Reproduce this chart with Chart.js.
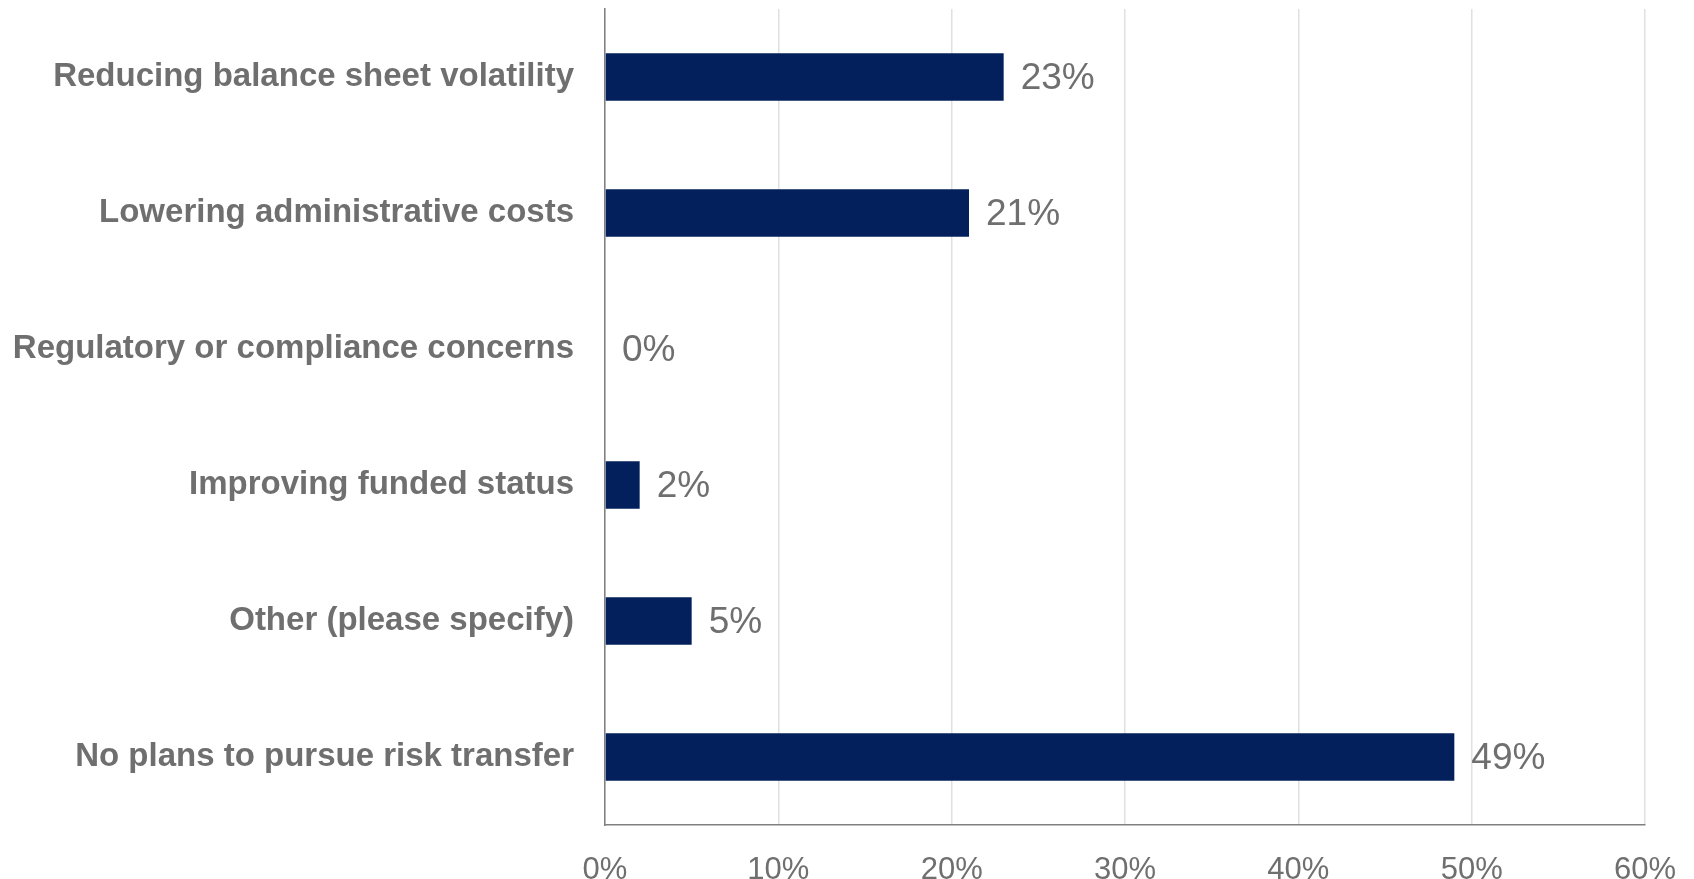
<!DOCTYPE html>
<html>
<head>
<meta charset="utf-8">
<script src="https://cdn.jsdelivr.net/npm/chart.js@4.4.1/dist/chart.umd.min.js"></script>
<style>
  html, body { margin: 0; padding: 0; background: #ffffff; }
  #wrap { width: 1694px; height: 879px; position: relative; }
</style>
</head>
<body>
<div id="wrap"><canvas id="chart"></canvas></div>
<script>
const categories = [
  'Reducing balance sheet volatility',
  'Lowering administrative costs',
  'Regulatory or compliance concerns',
  'Improving funded status',
  'Other (please specify)',
  'No plans to pursue risk transfer'
];
const shares = [23, 21, 0, 2, 5, 49];
const tickValues = [0, 10, 20, 30, 40, 50, 60];

const textGrey = '#6f6f6f';
const barNavy = '#03205d';

// Writes the percentage just past the end of each bar
const valueLabels = {
  id: 'valueLabels',
  afterDatasetsDraw(chart) {
    const ctx = chart.ctx;
    const meta = chart.getDatasetMeta(0);
    ctx.save();
    ctx.font = '37px "Liberation Sans", Arial, sans-serif';
    ctx.fillStyle = textGrey;
    ctx.textAlign = 'left';
    ctx.textBaseline = 'middle';
    meta.data.forEach((bar, i) => {
      ctx.fillText(shares[i] + '%', bar.x + 17, bar.y + 2);
    });
    ctx.restore();
  }
};

new Chart(document.getElementById('chart'), {
  type: 'bar',
  data: {
    labels: categories,
    datasets: [{
      data: shares,
      backgroundColor: barNavy,
      borderWidth: 0,
      categoryPercentage: 1,
      barPercentage: 0.35
    }]
  },
  options: {
    indexAxis: 'y',
    responsive: true,
    maintainAspectRatio: false,
    animation: false,
    layout: { padding: { top: 9, right: 49, bottom: 0, left: 0 } },
    plugins: { legend: { display: false }, tooltip: { enabled: false } },
    scales: {
      x: {
        min: 0,
        max: 60,
        afterBuildTicks(scale) {
          scale.ticks = tickValues.map(v => ({ value: v }));
        },
        afterFit(scale) {
          scale.height = 54;
          scale.paddingLeft = 0;
          scale.paddingRight = 0;
        },
        grid: { color: '#e0e0e0', lineWidth: 1.5, drawTicks: false },
        border: { color: '#808080', width: 1.5 },
        ticks: {
          padding: 27,
          color: textGrey,
          font: { family: '"Liberation Sans", Arial, sans-serif', size: 31 },
          callback: v => v + '%'
        }
      },
      y: {
        afterFit(scale) {
          scale.width = 605;
          scale.paddingTop = 0;
          scale.paddingBottom = 0;
        },
        grid: { display: false, drawTicks: false },
        border: { color: '#808080', width: 1.5 },
        ticks: {
          padding: 31,
          color: textGrey,
          font: { family: '"Liberation Sans", Arial, sans-serif', size: 33, weight: 'bold' }
        }
      }
    }
  },
  plugins: [valueLabels]
});
</script>
</body>
</html>
